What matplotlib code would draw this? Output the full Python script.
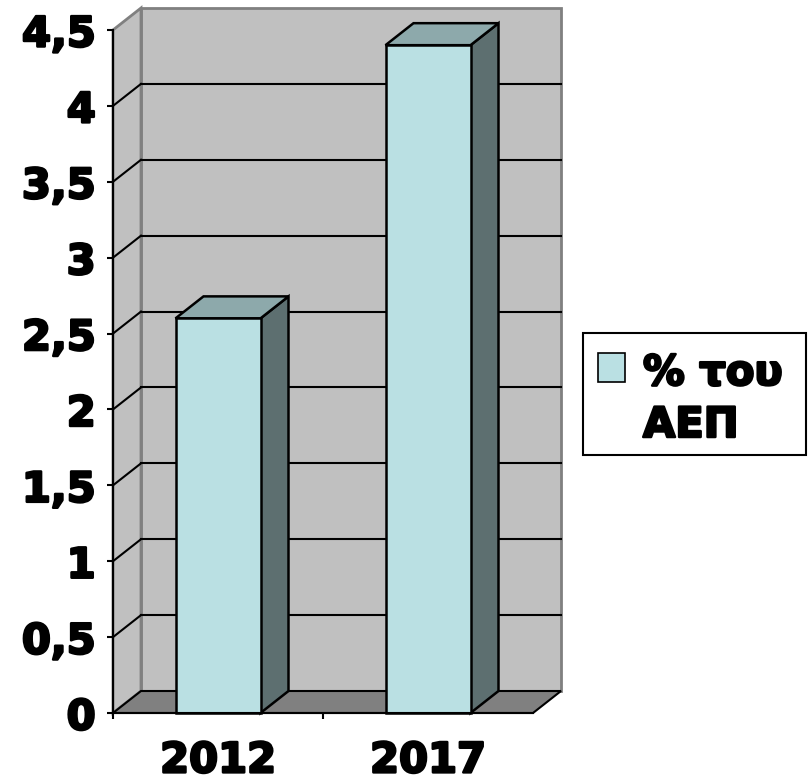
import matplotlib
matplotlib.use("Agg")
import matplotlib.pyplot as plt
import matplotlib.patheffects as pe
from matplotlib.patches import Polygon, Rectangle
from matplotlib.lines import Line2D

# ---- data ----
categories = ["2012", "2017"]
values = [2.6, 4.4]
series_label = "% του\nΑΕΠ"
y_ticks = [0, 0.5, 1, 1.5, 2, 2.5, 3, 3.5, 4, 4.5]
y_tick_labels = ["0", "0,5", "1", "1,5", "2", "2,5", "3", "3,5", "4", "4,5"]

# ---- style ----
W, H = 808, 779
FS = 30
FRONT = "#BAE0E3"
TOP = "#8DA9AB"
SIDE = "#5D6F70"
WALL = "#C0C0C0"
FLOOR = "#808080"
plt.rcParams['font.family'] = ['DejaVu Sans']
plt.rcParams['font.weight'] = 'bold'
heavy = [pe.withStroke(linewidth=1.8, foreground="black")]

fig = plt.figure(figsize=(W / 100, H / 100), dpi=100)
ax_l, ax_r, ax_top, ax_bot = 113, 533, 30, 713
ax = fig.add_axes([ax_l / W, (H - ax_bot) / H, (ax_r - ax_l) / W, (ax_bot - ax_top) / H])
n = len(categories)
ax.set_xlim(0, n)
ymax = 4.5
ax.set_ylim(0, ymax)
ax.patch.set_visible(False)

# depth offset in data units
px_per_x = (ax_r - ax_l) / n
px_per_y = (ax_bot - ax_top) / ymax
dX = 28 / px_per_x
dY = 22 / px_per_y

# back wall
ax.add_patch(Polygon([(dX, dY), (n + dX, dY), (n + dX, ymax + dY), (dX, ymax + dY)],
                     closed=True, facecolor=WALL, edgecolor="#808080", lw=2, clip_on=False, zorder=0.5))
# left wall
ax.add_patch(Polygon([(0, 0), (dX, dY), (dX, ymax + dY), (0, ymax)],
                     closed=True, facecolor=WALL, edgecolor="#808080", lw=2, clip_on=False, zorder=0.5))
# gridlines
for t in y_ticks:
    if 0 < t < ymax:
        ax.add_line(Line2D([dX, n + dX], [t + dY, t + dY], color="black", lw=1.5, clip_on=False, zorder=0.6))
        ax.add_line(Line2D([0, dX], [t, t + dY], color="black", lw=1.5, clip_on=False, zorder=0.6))
# floor
ax.add_patch(Polygon([(0, 0), (n, 0), (n + dX, dY), (dX, dY)],
                     closed=True, facecolor=FLOOR, edgecolor="black", lw=1.5, clip_on=False, zorder=0.7))

# bars
bw = 85 / px_per_x
for i, v in enumerate(values):
    xc = i + 0.5
    x0, x1 = xc - bw / 2, xc + bw / 2
    ax.add_patch(Polygon([(x1, 0), (x1 + dX, dY), (x1 + dX, v + dY), (x1, v)], closed=True,
                         facecolor=SIDE, edgecolor="black", lw=1.8, clip_on=False, zorder=2))
    ax.add_patch(Polygon([(x0, v), (x1, v), (x1 + dX, v + dY), (x0 + dX, v + dY)], closed=True,
                         facecolor=TOP, edgecolor="black", lw=1.8, clip_on=False, zorder=2))
    ax.add_patch(Rectangle((x0, 0), bw, v, facecolor=FRONT, edgecolor="black", lw=1.8,
                           clip_on=False, zorder=2.1))

# axes
for s in ["top", "right"]:
    ax.spines[s].set_visible(False)
ax.spines["left"].set_linewidth(1.5)
ax.spines["bottom"].set_linewidth(1.5)
ax.spines["left"].set_zorder(3)
ax.spines["bottom"].set_zorder(3)
ax.set_yticks(y_ticks)
ax.set_yticklabels(y_tick_labels, fontsize=FS, fontweight="bold")
ax.tick_params(axis="y", direction="out", length=4.5, width=1.5, pad=8)
ax.set_xticks([i + 0.5 for i in range(n)])
ax.set_xticklabels(categories, fontsize=FS, fontweight="bold")
ax.set_xticks(list(range(n)), minor=True)
ax.tick_params(axis="x", which="major", length=0, pad=19)
ax.tick_params(axis="x", which="minor", direction="out", length=4.5, width=1.5)
for lbl in ax.get_xticklabels() + ax.get_yticklabels():
    lbl.set_path_effects(heavy)

# legend (manual)
fig.patches.append(Rectangle((583 / W, 1 - 455 / H), (806 - 583) / W, (455 - 333) / H,
                             transform=fig.transFigure, facecolor="white", edgecolor="black", lw=1.5))
fig.patches.append(Rectangle((598 / W, 1 - 382 / H), 27 / W, 29 / H,
                             transform=fig.transFigure, facecolor=FRONT, edgecolor="black", lw=1.2))
lines = series_label.split("\n")
fig.text(643 / W, 1 - 385 / H, lines[0], fontsize=FS, fontweight="bold", va="baseline", ha="left",
         path_effects=heavy)
fig.text(643 / W, 1 - 437 / H, lines[1], fontsize=FS, fontweight="bold", va="baseline", ha="left",
         path_effects=heavy)

fig.savefig("out.png", dpi=100)
